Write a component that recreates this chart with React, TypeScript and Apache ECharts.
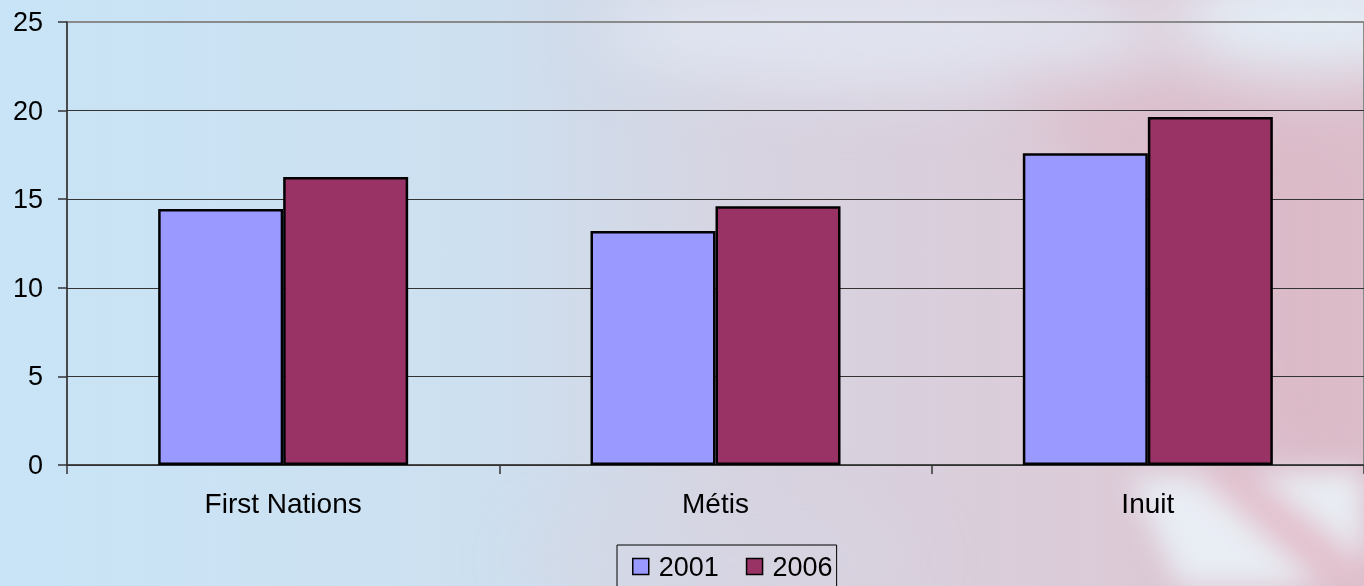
import React, { useEffect, useRef } from "react";
import * as echarts from "echarts";

const categories = ["First Nations", "Métis", "Inuit"];
const seriesNames = ["2001", "2006"];
const values2001 = [14.45, 13.2, 17.6];
const values2006 = [16.25, 14.6, 19.64];
const yTicks = [0, 5, 10, 15, 20, 25];

const FONT = "Arial, 'Liberation Sans', sans-serif";

export default function App() {
  const ref = useRef<HTMLDivElement>(null);
  useEffect(() => {
    if (!ref.current) return;
    const chart = echarts.init(ref.current, undefined, { renderer: "svg" });
    chart.setOption({
      animation: false,
      backgroundColor: "transparent",
      grid: {
        left: 67,
        right: -10,
        top: 22,
        bottom: 586 - 465,
        show: true,
        borderColor: "#8a8a8a",
        borderWidth: 2,
        backgroundColor: "transparent",
      },
      legend: {
        data: seriesNames,
        left: 617,
        top: 545,
        orient: "horizontal",
        icon: "rect",
        itemWidth: 16,
        itemHeight: 16,
        itemGap: 27,
        padding: [8, 4, 12, 15],
        borderColor: "#000",
        borderWidth: 1,
        backgroundColor: "rgba(255,255,255,0)",
        textStyle: {
          fontFamily: FONT,
          fontSize: 27,
          color: "#000",
          padding: [0, 0, 0, 5],
        },
        itemStyle: { borderColor: "#000", borderWidth: 1.5 },
      },
      xAxis: {
        type: "category",
        data: categories,
        boundaryGap: true,
        axisLine: { show: true, lineStyle: { color: "#333", width: 1.5 } },
        axisTick: { show: true, length: 9, lineStyle: { color: "#333", width: 1.5 } },
        axisLabel: { fontFamily: FONT, fontSize: 28, color: "#000", margin: 24 },
        splitLine: { show: false },
      },
      yAxis: {
        type: "value",
        min: yTicks[0],
        max: yTicks[yTicks.length - 1],
        interval: 5,
        axisLine: { show: true, lineStyle: { color: "#333", width: 1.5 } },
        axisTick: { show: true, length: 9, lineStyle: { color: "#333", width: 1.5 } },
        axisLabel: { fontFamily: FONT, fontSize: 27, color: "#000", margin: 24 },
        splitLine: {
          show: true,
          lineStyle: {
            color: ["#333", "#333", "#333", "#333", "#333", "#8a8a8a"],
            width: 1,
          },
        },
      },
      series: [
        {
          name: seriesNames[0],
          type: "bar",
          data: values2001,
          barWidth: 125,
          barGap: "0%",
          itemStyle: { color: "#9999FF", borderColor: "#000", borderWidth: 2.5 },
        },
        {
          name: seriesNames[1],
          type: "bar",
          data: values2006,
          barWidth: 125,
          barGap: "0%",
          itemStyle: { color: "#993366", borderColor: "#000", borderWidth: 2.5 },
        },
      ],
    });
    return () => chart.dispose();
  }, []);

  return (
    <div style={{ position: "fixed", left: 0, top: 0, width: 1364, height: 586, overflow: "hidden" }}>
      <svg width={1364} height={586} style={{ position: "absolute", left: 0, top: 0 }}>
        <defs>
          <linearGradient id="bg" x1="0" y1="0" x2="1" y2="0">
            <stop offset="0" stopColor="#c8e4f6" />
            <stop offset="0.35" stopColor="#cde0f0" />
            <stop offset="0.55" stopColor="#d7d3e0" />
            <stop offset="0.8" stopColor="#dccbd8" />
            <stop offset="1" stopColor="#dcbfcc" />
          </linearGradient>
          <filter id="blur" x="-50%" y="-50%" width="200%" height="200%">
            <feGaussianBlur stdDeviation="30" />
          </filter>
          <filter id="blur2" x="-50%" y="-50%" width="200%" height="200%">
            <feGaussianBlur stdDeviation="14" />
          </filter>
        </defs>
        <rect x={0} y={0} width={1364} height={586} fill="url(#bg)" />
        <g filter="url(#blur)">
          <ellipse cx={880} cy={30} rx={280} ry={60} fill="#e2e9f4" opacity={0.8} />
          <ellipse cx={1320} cy={20} rx={150} ry={55} fill="#e4eff8" opacity={0.95} />
          <polygon points="1000,70 1250,95 1364,150 1364,470 1250,460 1130,220" fill="#dbb4c2" opacity={0.55} />
          <ellipse cx={720} cy={560} rx={200} ry={50} fill="#d6d6e3" opacity={0.4} />
        </g>
        <g filter="url(#blur2)">
          <polygon points="1130,478 1364,470 1364,586 1180,586" fill="#e9eff6" opacity={0.95} />
          <polygon points="1190,470 1250,470 1364,560 1364,586 1320,586" fill="#e0b8c5" opacity={0.85} />
        </g>
      </svg>
      <div ref={ref} style={{ position: "absolute", left: 0, top: 0, width: 1364, height: 586 }} />
    </div>
  );
}
